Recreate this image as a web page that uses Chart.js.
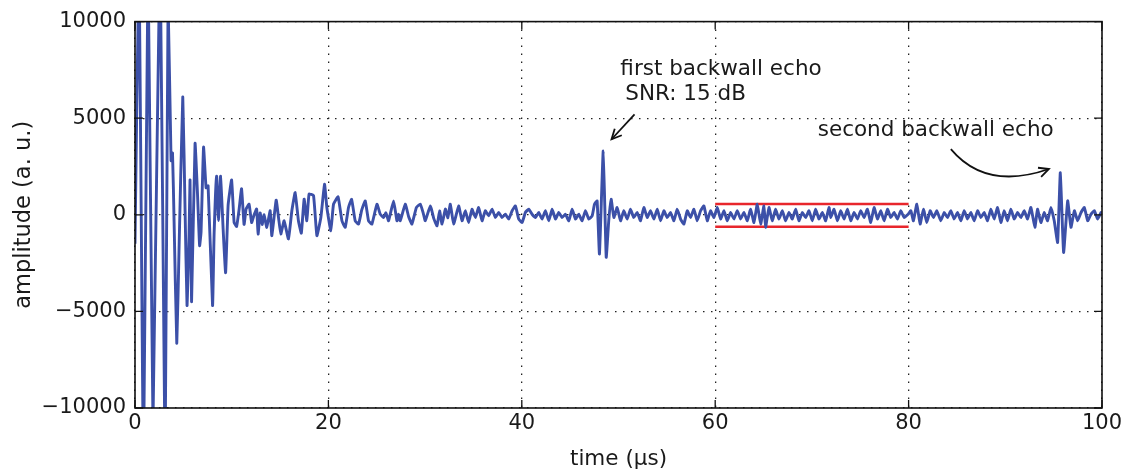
<!DOCTYPE html>
<html>
<head>
<meta charset="utf-8">
<script src="https://cdn.jsdelivr.net/npm/chart.js@4/dist/chart.umd.min.js"></script>
<style>
  html, body { margin: 0; padding: 0; background: #fff; }
  #wrap { width: 1128px; height: 472px; }
</style>
</head>
<body>
<div id="wrap"><canvas id="scan" width="1128" height="472"></canvas></div>
<script>
// A-scan: time axis in microseconds, amplitude in arbitrary units
const timeUs = [
  0, 0.41, 0.88, 1.35, 1.86, 2.59, 3.11, 3.42, 3.73, 3.88, 4.04, 4.32, 4.55, 4.94, 5.18, 5.38, 5.59, 5.69, 5.85,
  6.21, 6.47, 6.68, 6.83, 7.09, 7.35, 7.56, 8.02, 8.18, 8.44, 8.64, 8.85, 9.11, 9.37, 9.63, 9.99,
  10.25, 10.51, 10.77, 11.02, 11.28, 11.49, 11.80, 12.06, 12.32, 12.58, 12.73, 12.94, 13.15, 13.35, 13.63,
  13.98, 14.15, 14.60, 14.84, 15.08, 15.42, 15.87, 16.22, 16.56, 16.90, 17.20, 17.49, 17.77, 18.00, 18.46, 18.81,
  19.22, 19.60, 19.84, 20.25, 20.53, 21.00, 21.40, 21.74, 22.08, 22.40, 22.77, 23.12, 23.45, 23.81, 24.15, 24.50,
  25.02, 25.36, 25.70, 25.95, 26.22, 26.74, 27.09, 27.25, 27.43, 27.95, 28.30, 28.64, 29.10, 29.50, 29.80, 30.02,
  30.54, 30.90, 31.23, 31.50, 31.75, 32.10, 32.35,
  32.61, 32.95, 33.47, 33.82, 34.16, 34.50, 34.85, 35.20, 35.54, 35.89, 36.23, 36.57, 36.93, 37.27, 37.61, 37.96,
  38.30, 38.65, 39.00, 39.34, 39.68, 40.03, 40.37, 40.71, 41.06, 41.41, 41.75, 42.10, 42.44, 42.79, 43.14, 43.48,
  43.82, 44.17, 44.51, 44.86, 45.21, 45.55, 45.89, 46.24, 46.58, 46.93, 47.28, 47.52, 47.79, 48.03, 48.42, 48.73,
  48.99, 49.24, 49.52, 49.86, 50.21, 50.55, 50.90, 51.24, 51.58, 51.93, 52.28, 52.62, 52.97,
  53.31, 53.66, 54.00, 54.35, 54.69, 55.04, 55.38, 55.73, 56.07, 56.42, 56.76, 57.11, 57.45, 57.80, 58.14, 58.49,
  58.83, 59.18, 59.52, 59.87, 60.21, 60.56, 60.90, 61.25, 61.59, 61.94, 62.28, 62.63, 62.97, 63.32, 63.66, 64.01,
  64.35, 64.70, 65.04, 65.21, 65.56, 65.90, 66.25, 66.59, 66.94, 67.28, 67.63, 67.97, 68.32, 68.66, 69.01, 69.35,
  69.70, 70.04, 70.39, 70.73, 71.08, 71.42, 71.77,
  71.95, 72.29, 72.64, 72.98, 73.33, 73.67, 74.02, 74.36, 74.71, 75.05, 75.40, 75.74, 76.09, 76.43, 76.78, 77.12,
  77.47, 77.81, 78.16, 78.50, 78.85, 79.19, 79.54, 79.95, 80.23, 80.50, 80.85, 81.19, 81.54, 81.88, 82.23, 82.57,
  82.92, 83.33, 83.68, 84.02, 84.37, 84.71, 85.06, 85.40, 85.75, 86.09, 86.44, 86.78, 87.13, 87.47, 87.82, 88.16,
  88.51, 88.85, 89.20, 89.54, 89.89, 90.23, 90.58, 90.92, 91.27, 91.61, 91.96, 92.30, 92.65, 93.06, 93.33, 93.68,
  94.03, 94.37, 94.72, 95.06, 95.41, 95.69, 96.03, 96.45, 96.79, 97.14, 97.48, 97.83, 98.17, 98.52, 98.86, 99.21,
  99.55, 99.90, 100
];
const amplitude = [
  -1500, 13000, -13000, 13000, -10800, 14000, -13000, 11000, 2800, 3200, -300, -6650, -1900, 6100, 200, -4700, -1000, 1800, -4500,
  3700, 1000, -1600, -900, 3500, 1400, 1500, -4700, -1000, 2000, -300, 2000, -700, -3000, 500, 1800,
  -400, -600, 300, 1350, -500, 300, 550, -400, 0, 300, -1000, 100, -500, 0, -650,
  210, -1080, 760, -140, -990, -310, -1250, 210, 1150, -310, -950, 810, -310, 1070, 1000, -1080,
  -140, 1580, 380, -820, 550, 930, -310, -650, 380, 800, -310, -480, 250, 720, -310, -480,
  550, 30, -140, 100, -310, 720, -310, 30, -310, 550, -100, -480, 380, 550, 100, -310,
  460, -200, -570, 200, -480, 300, -150,
  550, -480, 460, -310, 210, -400, 290, -140, 380, -310, 210, -50, 290, -140, 120, -140,
  30, -220, 210, 460, -220, -400, 120, 290, 30, -140, 120, -220, 210, -310, 290, -220,
  120, -140, 30, -310, 290, -220, 30, -310, 210, -220, -50, 550, 720, -2030, 3300, -2200,
  -310, 810, -140, 380, -310, 210, -220, 290, -140, 120, -310, 380, -140,
  210, -220, 290, -310, 210, -140, 120, -310, 290, -220, -480, 210, -140, 290, -310, 210,
  460, -310, 210, -140, 380, -220, 210, -310, 120, -220, 210, -220, 120, -310, 290, -400,
  550, -480, 460, -650, 380, -310, 290, -220, 210, -310, 120, -220, 290, -310, 120, -140,
  210, -310, 290, -220, 120, -310, 380,
  -140, 290, -310, 210, -220, 290, -310, 120, -220, 210, -140, 290, -400, 380, -220, 210,
  -310, 290, -140, 120, -220, 210, -140, 30, 210, -310, 550, -480, 290, -400, 210, -140,
  210, -310, 120, -140, 210, -220, 120, -310, 210, -220, 120, -310, 210, -140, 120, -310,
  290, -220, 380, -400, 210, -310, 290, -220, 120, -140, 210, -220, 380, -650, 290, -400,
  120, -310, 380, -310, -1430, 2180, -1950, 720, -650, 210, -310, 120, 380, -310, 30, 210,
  -220, 120, 50
];

// noise window used for the SNR estimate
const bandTimes = [60, 80];
const bandUpper = 560;
const bandLower = -620;

const xTicks = [0, 20, 40, 60, 80, 100];
const yTicks = [-10000, -5000, 0, 5000, 10000];

// annotations: [text, time, amplitude, align]
const labels = [
  ['first backwall echo', 60.6, 7520, 'center'],
  ['SNR: 15 dB', 50.7, 6230, 'left'],
  ['second backwall echo', 70.6, 4360, 'left']
];
const arrowStraight = { from: [51.66, 5200], to: [49.28, 3910] };
const arrowCurved = { from: [84.37, 3400], ctrl: [88.0, 1240], to: [94.51, 2370] };

const FONT = '"DejaVu Sans", "Liberation Sans", sans-serif';
const TICK = 8;

function drawHead(ctx, tipX, tipY, fromX, fromY) {
  const ang = Math.atan2(tipY - fromY, tipX - fromX);
  const len = 11, spread = 0.45;
  ctx.beginPath();
  ctx.moveTo(tipX - len * Math.cos(ang - spread), tipY - len * Math.sin(ang - spread));
  ctx.lineTo(tipX, tipY);
  ctx.lineTo(tipX - len * Math.cos(ang + spread), tipY - len * Math.sin(ang + spread));
  ctx.stroke();
}

const frameAndNotes = {
  id: 'frameAndNotes',
  afterDatasetsDraw(chart) {
    const { ctx, chartArea: a, scales: { x, y } } = chart;
    ctx.save();
    ctx.setLineDash([]);

    // axes frame with inward ticks on all four sides
    ctx.strokeStyle = '#111';
    ctx.lineWidth = 1.6;
    ctx.strokeRect(a.left, a.top, a.right - a.left, a.bottom - a.top);
    ctx.lineWidth = 1.3;
    ctx.beginPath();
    xTicks.forEach(v => {
      const px = x.getPixelForValue(v);
      ctx.moveTo(px, a.bottom); ctx.lineTo(px, a.bottom - TICK);
      ctx.moveTo(px, a.top); ctx.lineTo(px, a.top + TICK);
    });
    yTicks.forEach(v => {
      const py = y.getPixelForValue(v);
      ctx.moveTo(a.left, py); ctx.lineTo(a.left + TICK, py);
      ctx.moveTo(a.right, py); ctx.lineTo(a.right - TICK, py);
    });
    ctx.stroke();

    // text annotations
    ctx.fillStyle = '#1a1a1a';
    ctx.font = '21.5px ' + FONT;
    ctx.textBaseline = 'middle';
    labels.forEach(([txt, t, v, align]) => {
      ctx.textAlign = align;
      ctx.fillText(txt, x.getPixelForValue(t), y.getPixelForValue(v));
    });

    // arrows
    ctx.strokeStyle = '#111';
    ctx.lineWidth = 1.8;
    const s0 = [x.getPixelForValue(arrowStraight.from[0]), y.getPixelForValue(arrowStraight.from[1])];
    const s1 = [x.getPixelForValue(arrowStraight.to[0]), y.getPixelForValue(arrowStraight.to[1])];
    ctx.beginPath();
    ctx.moveTo(s0[0], s0[1]);
    ctx.lineTo(s1[0], s1[1]);
    ctx.stroke();
    drawHead(ctx, s1[0], s1[1], s0[0], s0[1]);

    const c0 = [x.getPixelForValue(arrowCurved.from[0]), y.getPixelForValue(arrowCurved.from[1])];
    const cc = [x.getPixelForValue(arrowCurved.ctrl[0]), y.getPixelForValue(arrowCurved.ctrl[1])];
    const c1 = [x.getPixelForValue(arrowCurved.to[0]), y.getPixelForValue(arrowCurved.to[1])];
    ctx.beginPath();
    ctx.moveTo(c0[0], c0[1]);
    ctx.quadraticCurveTo(cc[0], cc[1], c1[0], c1[1]);
    ctx.stroke();
    drawHead(ctx, c1[0], c1[1], cc[0], cc[1]);

    ctx.restore();
  }
};

const signal = timeUs.map((t, i) => ({ x: t, y: amplitude[i] }));

new Chart(document.getElementById('scan'), {
  type: 'line',
  data: {
    datasets: [
      {
        data: signal,
        borderColor: '#3c50a8',
        borderWidth: 2.9,
        pointRadius: 0,
        tension: 0.12,
        fill: false
      },
      {
        data: bandTimes.map(t => ({ x: t, y: bandUpper })),
        borderColor: '#e8262c',
        borderWidth: 2.4,
        pointRadius: 0
      },
      {
        data: bandTimes.map(t => ({ x: t, y: bandLower })),
        borderColor: '#e8262c',
        borderWidth: 2.4,
        pointRadius: 0
      }
    ]
  },
  options: {
    responsive: false,
    animation: false,
    events: [],
    layout: { padding: { top: 20, right: 26, bottom: 0, left: 0 } },
    plugins: { legend: { display: false }, tooltip: { enabled: false } },
    scales: {
      x: {
        type: 'linear',
        min: 0,
        max: 100,
        afterFit(scale) { scale.height = 64; },
        ticks: { stepSize: 20, color: '#1a1a1a', font: { family: FONT, size: 21 }, padding: 3, maxRotation: 0 },
        grid: { color: '#222', lineWidth: 1.3, drawTicks: false },
        border: { display: false, dash: [1.5, 6.5] },
        title: { display: true, text: 'time (µs)', color: '#1a1a1a', font: { family: FONT, size: 21.5 }, padding: { top: 0, bottom: 0 } }
      },
      y: {
        min: -10000,
        max: 10000,
        afterFit(scale) { scale.width = 135; },
        ticks: {
          stepSize: 5000,
          color: '#1a1a1a',
          font: { family: FONT, size: 21 },
          padding: 9,
          callback: v => (v < 0 ? '\u2212' + Math.abs(v) : String(v))
        },
        grid: { color: '#222', lineWidth: 1.3, drawTicks: false },
        border: { display: false, dash: [1.5, 6.5] },
        title: { display: true, text: 'amplitude (a. u.)', color: '#1a1a1a', font: { family: FONT, size: 22.5 }, padding: { top: 11, bottom: 0 } }
      }
    }
  },
  plugins: [frameAndNotes]
});
</script>
</body>
</html>
